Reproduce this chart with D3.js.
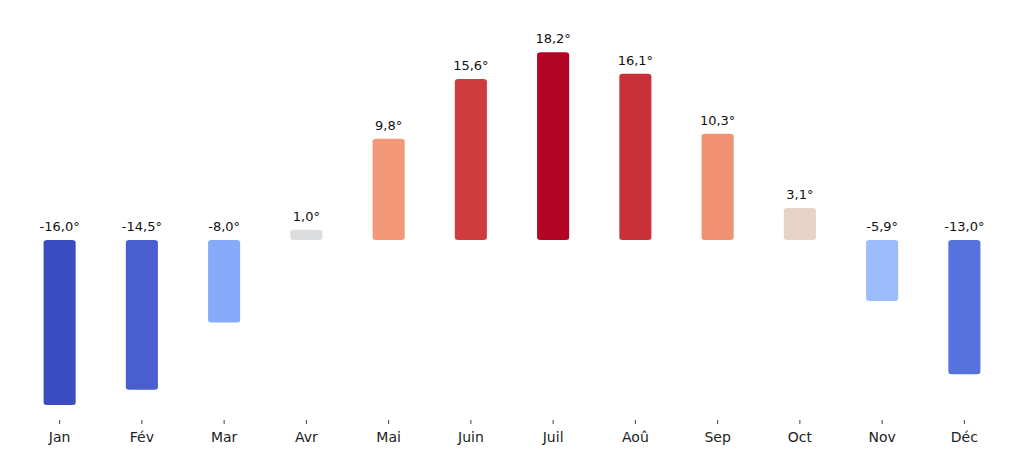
<!DOCTYPE html>
<html>
<head>
<meta charset="utf-8">
<script src="https://cdn.jsdelivr.net/npm/d3@7"></script>
<style>
  html, body { margin: 0; padding: 0; background: #ffffff; }
  svg { display: block; }
</style>
</head>
<body>
<svg id="chart" width="1024" height="454"></svg>
<script>
const months = ["Jan", "Fév", "Mar", "Avr", "Mai", "Juin", "Juil", "Aoû", "Sep", "Oct", "Nov", "Déc"];
const temperatures = [-16.0, -14.5, -8.0, 1.0, 9.8, 15.6, 18.2, 16.1, 10.3, 3.1, -5.9, -13.0];

// matplotlib "coolwarm" colormap anchors (t = 0, 0.125, ..., 1)
const coolwarm = [
  "rgb(59,76,192)", "rgb(98,130,234)", "rgb(141,176,254)", "rgb(184,208,249)",
  "rgb(221,221,221)", "rgb(245,196,173)", "rgb(244,154,123)", "rgb(222,96,77)", "rgb(180,4,38)"
];

const svg = d3.select("#chart");

const x = d3.scaleBand()
  .domain(months)
  .range([18.5, 1005.5])
  .paddingInner(0.61)
  .paddingOuter(0.305);

// 0 at y=240, ~10.32 px per degree
const y = d3.scaleLinear()
  .domain([-16, 18.2])
  .range([240 + 16 * 10.32, 240 - 18.2 * 10.32]);

const cmap = d3.piecewise(d3.interpolateRgb, coolwarm);
const norm = d3.scaleLinear().domain(d3.extent(temperatures)).range([0, 1]).clamp(true);

const fmt = v => d3.format(".1f")(v).replace("\u2212", "-").replace(".", ",") + "°";

// bars
svg.append("g")
  .selectAll("rect")
  .data(temperatures)
  .join("rect")
  .attr("x", (d, i) => x(months[i]))
  .attr("width", x.bandwidth())
  .attr("y", d => Math.min(y(d), y(0)))
  .attr("height", d => Math.abs(y(d) - y(0)))
  .attr("rx", 3.5)
  .attr("ry", 2.5)
  .attr("fill", d => cmap(norm(d)));

// value labels (above the top of each bar, or above baseline for negatives)
svg.append("g")
  .selectAll("text")
  .data(temperatures)
  .join("text")
  .attr("x", (d, i) => x(months[i]) + x.bandwidth() / 2)
  .attr("y", d => y(Math.max(d, 0)) - 9)
  .attr("text-anchor", "middle")
  .attr("font-family", "DejaVu Sans")
  .attr("font-size", 13)
  .attr("fill", "#111")
  .text(d => fmt(d));

// x axis
const axis = svg.append("g")
  .attr("transform", "translate(0,420)")
  .call(d3.axisBottom(x).tickSize(4).tickPadding(8));
axis.select(".domain").remove();
axis.selectAll(".tick line").attr("stroke", "#444").attr("stroke-width", 1);
axis.selectAll(".tick text")
  .attr("font-family", "DejaVu Sans")
  .attr("font-size", 14)
  .attr("fill", "#222");
</script>
</body>
</html>
